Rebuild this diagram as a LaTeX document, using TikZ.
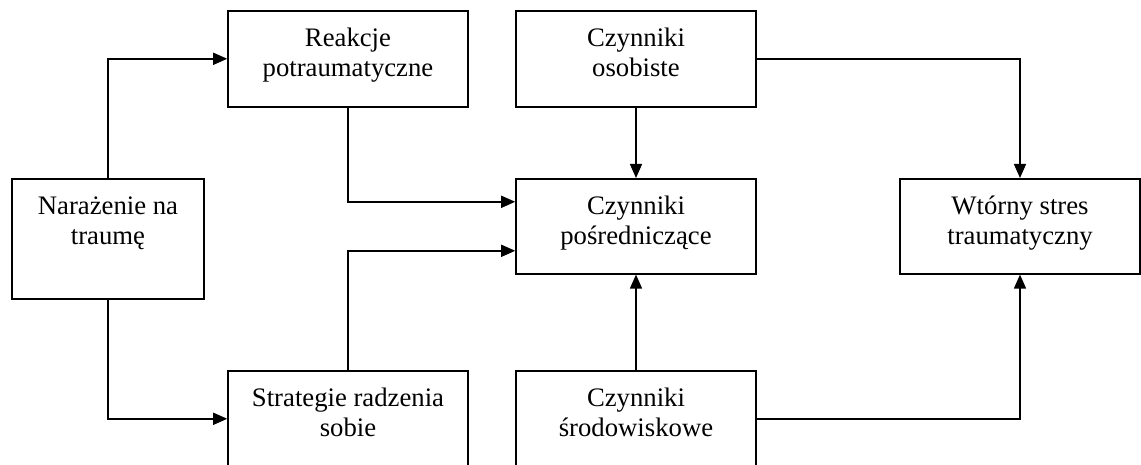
\documentclass[tikz,border=0pt]{standalone}
\usepackage{fontspec}
\setmainfont{Liberation Serif}
\usepackage{tikz}
\usetikzlibrary{positioning,arrows.meta,calc}
\tikzset{
  ramka/.style={rectangle,draw=black,line width=0.9pt,align=flush center,inner sep=0pt,
    text width=4.8cm,text height=0.72cm,text depth=1.2cm,anchor=north,
    font=\fontsize{15.2}{16.8}\selectfont},
  strz/.style={-{Triangle[length=0.28cm,width=0.24cm]},line width=0.9pt,draw=black},
}
\begin{document}
\begin{tikzpicture}
  \useasboundingbox (0,0) rectangle (22.82,-9.3);
  % lewa kolumna
  \node[ramka,text width=3.84cm,text depth=1.68cm] (naraz) at (2.16,-3.56) {Narażenie na\\traumę};
  \node[ramka] (reakcje) at (6.96,-0.2) {Reakcje\\potraumatyczne};
  \node[ramka] (strategie) at (6.96,-7.4) {Strategie radzenia\\sobie};
  % srodkowa kolumna
  \node[ramka] (osob) at (12.72,-0.2) {Czynniki\\osobiste};
  \node[ramka,text depth=1.18cm] (posr) at (12.72,-3.56) {Czynniki\\pośredniczące};
  \node[ramka] (srod) at (12.72,-7.4) {Czynniki\\środowiskowe};
  % prawa kolumna
  \node[ramka,text depth=1.18cm] (wtorny) at (20.4,-3.56) {Wtórny stres\\traumatyczny};

  \draw[strz] (naraz.north) |- (reakcje.west);
  \draw[strz] (naraz.south) |- (strategie.west);
  \draw[strz] (reakcje.south) |- ([yshift=0.49cm]posr.west);
  \draw[strz] (strategie.north) |- ([yshift=-0.49cm]posr.west);
  \draw[strz] (osob.south) -- (posr.north);
  \draw[strz] (srod.north) -- (posr.south);
  \draw[strz] (osob.east) -| (wtorny.north);
  \draw[strz] (srod.east) -| (wtorny.south);
\end{tikzpicture}
\end{document}
